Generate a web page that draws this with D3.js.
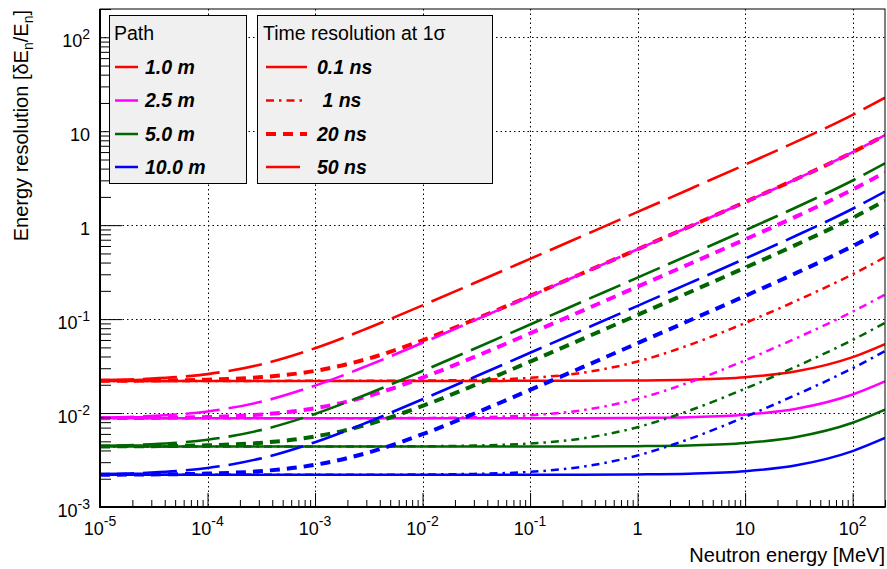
<!DOCTYPE html>
<html><head><meta charset="utf-8">
<script src="https://cdn.jsdelivr.net/npm/d3@7"></script>
<style>
body{margin:0;background:#fff;}
svg{display:block;font-family:"Liberation Sans",Arial,Helvetica,sans-serif;}
</style></head><body>
<svg id="chart" width="887" height="569"></svg>
<script>
// ---------- data ----------
const energies = [1e-5, 3e-5, 1e-4, 3e-4, 1e-3, 3e-3, 1e-2, 3e-2, 0.1, 0.3, 1, 3, 10, 30, 100, 200];

const pathLabels = ["1.0 m", "2.5 m", "5.0 m", "10.0 m"];
const timeLabels = ["0.1 ns", " 1 ns", "20 ns", "50 ns"];
const xTickValues = [1e-5, 1e-4, 1e-3, 1e-2, 1e-1, 1, 10, 100];
const xTickLabels = [["10","-5"],["10","-4"],["10","-3"],["10","-2"],["10","-1"],["1",""],["10",""],["10","2"]];
const yTickValues = [1e-3, 1e-2, 1e-1, 1, 10, 100];
const yTickLabels = [["10","-3"],["10","-2"],["10","-1"],["1",""],["10",""],["10","2"]];

// path 1.0 m
const res1m_t01 = [0.0220,0.0220,0.0220,0.0220,0.0220,0.0220,0.0220,0.0220,0.02202,0.02206,0.02221,0.02262,0.02403,0.02780,0.03939,0.05426];
const res1m_t1  = [0.0220,0.0220,0.0220,0.02200,0.02202,0.02205,0.02217,0.02252,0.02368,0.02673,0.03538,0.05284,0.09095,0.1569,0.3001,0.4563];
const res1m_t20 = [0.02207,0.02221,0.02269,0.02400,0.02811,0.03745,0.05955,0.09833,0.1764,0.3040,0.5541,0.9602,1.763,3.103,5.980,9.106];
const res1m_t50 = [0.02243,0.02327,0.02599,0.03253,0.04897,0.07889,0.1401,0.2406,0.4381,0.7583,1.384,2.400,4.408,7.757,14.95,22.77];
// path 2.5 m
const res25m_t01 = [0.0088,0.0088,0.0088,0.0088,0.0088,0.0088,0.0088,0.0088,0.008808,0.008824,0.008884,0.009048,0.009612,0.01112,0.01576,0.02170];
const res25m_t1  = [0.0088,0.0088,0.0088,0.0088,0.008808,0.00882,0.008868,0.009008,0.009472,0.01069,0.01415,0.02114,0.03638,0.06274,0.1200,0.1825];
const res25m_t20 = [0.008828,0.008884,0.009076,0.0096,0.01124,0.01498,0.02382,0.03933,0.07055,0.1216,0.2216,0.3841,0.7053,1.241,2.392,3.642];
const res25m_t50 = [0.008972,0.009308,0.01040,0.01301,0.01959,0.03156,0.05603,0.09624,0.1752,0.3033,0.5537,0.9600,1.763,3.103,5.980,9.106];
// path 5.0 m
const res5m_t01 = [0.0044,0.0044,0.0044,0.0044,0.0044,0.0044,0.0044,0.0044,0.004404,0.004412,0.004442,0.004524,0.004806,0.00556,0.007878,0.01085];
const res5m_t1  = [0.0044,0.0044,0.0044,0.0044,0.004404,0.00441,0.004434,0.004504,0.004736,0.005346,0.007076,0.01057,0.01819,0.03137,0.06002,0.09125];
const res5m_t20 = [0.004414,0.004442,0.004538,0.0048,0.005622,0.00749,0.01191,0.01967,0.03528,0.0608,0.1108,0.1920,0.3527,0.6206,1.196,1.821];
const res5m_t50 = [0.004486,0.004654,0.005198,0.006506,0.009794,0.01578,0.02801,0.04812,0.08761,0.1517,0.2768,0.4800,0.8816,1.552,2.990,4.553];
// path 10.0 m
const res10m_t01 = [0.0022,0.0022,0.0022,0.0022,0.0022,0.0022,0.0022,0.0022,0.002202,0.002206,0.002221,0.002262,0.002403,0.00278,0.003939,0.005426];
const res10m_t1  = [0.0022,0.0022,0.0022,0.0022,0.002202,0.002205,0.002217,0.002252,0.002368,0.002673,0.003538,0.005284,0.009095,0.01569,0.03001,0.04563];
const res10m_t20 = [0.002207,0.002221,0.002269,0.0024,0.002811,0.003745,0.005955,0.009833,0.01764,0.0304,0.05541,0.09602,0.1763,0.3103,0.598,0.9106];
const res10m_t50 = [0.002243,0.002327,0.002599,0.003253,0.004897,0.007889,0.01401,0.02406,0.04381,0.07583,0.1384,0.24,0.4408,0.7757,1.495,2.277];

const seriesTable = [
  [res1m_t01, res1m_t1, res1m_t20, res1m_t50],
  [res25m_t01, res25m_t1, res25m_t20, res25m_t50],
  [res5m_t01, res5m_t1, res5m_t20, res5m_t50],
  [res10m_t01, res10m_t1, res10m_t20, res10m_t50]
];

// ---------- styles ----------
const pathColors = ["#ff0000", "#ff00ff", "#006600", "#0000ff"];
const timeStyles = [
  {dash: null, width: 2.5},
  {dash: "8 5 2.5 5", width: 2.5},
  {dash: "10 7", width: 4},
  {dash: "34 9", width: 2.6}
];

// ---------- layout ----------
const svg = d3.select("#chart");
const L = 100, R = 885, T = 9, B = 507;
const x = d3.scaleLog().domain([1e-5, 200]).range([L, R]);
const y = d3.scaleLog().domain([1e-3, 200]).range([B, T]);

svg.append("rect").attr("width", 887).attr("height", 569).attr("fill", "#fff");

// minor tick positions
const minorX = [], minorY = [];
for (let d = -5; d <= 2; d++) for (let k = 2; k <= 9; k++) { const v = k * Math.pow(10, d); if (v <= 200) minorX.push(v); }
for (let d = -3; d <= 2; d++) for (let k = 2; k <= 9; k++) { const v = k * Math.pow(10, d); if (v <= 200) minorY.push(v); }

// grid
const grid = svg.append("g").attr("stroke", "#000").attr("stroke-width", 1).attr("stroke-dasharray", "1.5 3");
xTickValues.filter(v => v > 1e-5).forEach(v => {
  const px = Math.round(x(v)) + 0.5;
  grid.append("line").attr("x1", px).attr("x2", px).attr("y1", T).attr("y2", B);
});
yTickValues.filter(v => v > 1e-3).forEach(v => {
  const py = Math.round(y(v)) + 0.5;
  grid.append("line").attr("x1", L).attr("x2", R).attr("y1", py).attr("y2", py);
});

// curves
svg.append("clipPath").attr("id", "plotclip").append("rect").attr("x", L).attr("y", T).attr("width", R - L).attr("height", B - T);
const line = d3.line().x(d => x(d[0])).y(d => y(d[1])).curve(d3.curveMonotoneX);
const curves = svg.append("g").attr("clip-path", "url(#plotclip)");
seriesTable.forEach((row, pi) => {
  row.forEach((vals, ti) => {
    const pts = energies.map((e, i) => [e, vals[i]]);
    const st = timeStyles[ti];
    curves.append("path").attr("d", line(pts)).attr("fill", "none")
      .attr("stroke", pathColors[pi]).attr("stroke-width", st.width)
      .attr("stroke-dasharray", st.dash);
  });
});

// axes (ticks inside)
const axX = svg.append("g").attr("transform", `translate(0,${B})`);
axX.append("g").call(d3.axisBottom(x).tickValues(minorX).tickSize(-7).tickSizeOuter(0).tickFormat(""));
axX.append("g").call(d3.axisBottom(x).tickValues(xTickValues).tickSize(-14).tickSizeOuter(0).tickFormat(""));
const axY = svg.append("g").attr("transform", `translate(${L},0)`);
axY.append("g").call(d3.axisLeft(y).tickValues(minorY).tickSize(-11).tickSizeOuter(0).tickFormat(""));
axY.append("g").call(d3.axisLeft(y).tickValues(yTickValues).tickSize(-22).tickSizeOuter(0).tickFormat(""));
svg.selectAll(".domain").remove();
svg.selectAll(".tick line").attr("stroke", "#000").attr("stroke-width", 1);

// frame
svg.append("rect").attr("x", L).attr("y", T).attr("width", R - L).attr("height", B - T)
  .attr("fill", "none").attr("stroke", "#000").attr("stroke-width", 1);
svg.append("line").attr("x1", L).attr("x2", R + 0.5).attr("y1", B).attr("y2", B).attr("stroke", "#000").attr("stroke-width", 2);
svg.append("line").attr("x1", L).attr("x2", L).attr("y1", T).attr("y2", B + 1).attr("stroke", "#000").attr("stroke-width", 2);

// tick labels
xTickValues.forEach((v, i) => {
  const t = svg.append("text").attr("x", x(v)).attr("y", 535).attr("text-anchor", "middle")
    .attr("font-size", 18).attr("fill", "#000").text(xTickLabels[i][0]);
  if (xTickLabels[i][1]) t.append("tspan").attr("dy", -9).attr("font-size", 14).text(xTickLabels[i][1]);
});
yTickValues.forEach((v, i) => {
  const t = svg.append("text").attr("x", 90).attr("y", y(v) + 9.5).attr("text-anchor", "end")
    .attr("font-size", 18).attr("fill", "#000").text(yTickLabels[i][0]);
  if (yTickLabels[i][1]) t.append("tspan").attr("dy", -8).attr("font-size", 14).text(yTickLabels[i][1]);
});

// axis titles
svg.append("text").attr("x", 885).attr("y", 562).attr("text-anchor", "end").attr("font-size", 20)
  .text("Neutron energy [MeV]");
const yt = svg.append("text").attr("transform", "translate(28,10) rotate(-90)").attr("text-anchor", "end").attr("font-size", 20);
yt.append("tspan").text("Energy resolution [δE");
yt.append("tspan").attr("dy", 5).attr("font-size", 14).text("n");
yt.append("tspan").attr("dy", -5).text("/E");
yt.append("tspan").attr("dy", 5).attr("font-size", 14).text("n");
yt.append("tspan").attr("dy", -5).text("]");

// legends
const leg1 = svg.append("g");
leg1.append("rect").attr("x", 109.5).attr("y", 15.5).attr("width", 137).attr("height", 168)
  .attr("fill", "#f0f0f0").attr("stroke", "#000").attr("stroke-width", 1);
leg1.append("text").attr("x", 114).attr("y", 40).attr("font-size", 19.5).text("Path");
const legRows = [67, 100.5, 134, 167];
pathLabels.forEach((lab, i) => {
  leg1.append("line").attr("x1", 115).attr("x2", 138).attr("y1", legRows[i]).attr("y2", legRows[i])
    .attr("stroke", pathColors[i]).attr("stroke-width", 2.5);
  leg1.append("text").attr("x", 145).attr("y", legRows[i] + 6.5).attr("font-size", 19.5)
    .attr("font-weight", "bold").attr("font-style", "italic").text(lab);
});
const leg2 = svg.append("g");
leg2.append("rect").attr("x", 257.5).attr("y", 15.5).attr("width", 235).attr("height", 168)
  .attr("fill", "#f0f0f0").attr("stroke", "#000").attr("stroke-width", 1);
leg2.append("text").attr("x", 263).attr("y", 40).attr("font-size", 19.5).text("Time resolution at 1σ");
timeLabels.forEach((lab, i) => {
  const st = timeStyles[i];
  leg2.append("line").attr("x1", 266).attr("x2", 307).attr("y1", legRows[i]).attr("y2", legRows[i])
    .attr("stroke", pathColors[0]).attr("stroke-width", st.width).attr("stroke-dasharray", st.dash);
  leg2.append("text").attr("x", 317).attr("y", legRows[i] + 6.5).attr("font-size", 19.5)
    .style("white-space", "pre")
    .attr("font-weight", "bold").attr("font-style", "italic").text(lab);
});
</script>
</body></html>
